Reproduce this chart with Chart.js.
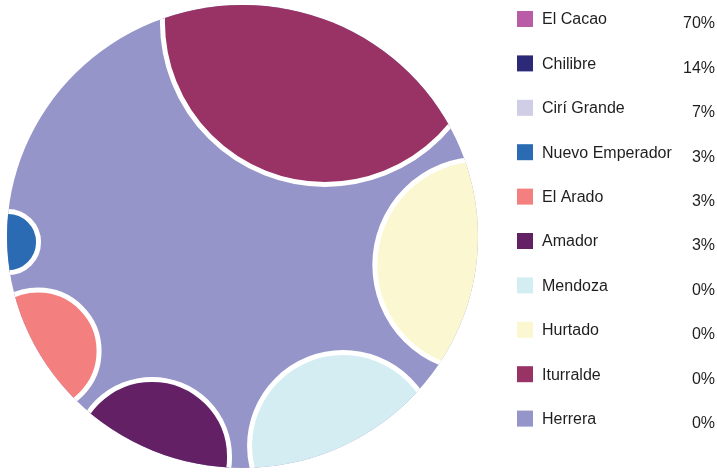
<!DOCTYPE html>
<html lang="es">
<head>
    <meta charset="utf-8">
    <title>Corregimientos</title>
    <script src="https://cdn.jsdelivr.net/npm/chart.js"></script>
    <style>
        html, body { margin: 0; padding: 0; background: #fff; }
        #wrap { width: 717px; height: 474px; position: relative; }
    </style>
</head>
<body>
    <div id="wrap">
        <canvas id="bubbleChart"></canvas>
    </div>

    <script>
        // legend entries
        var categories = [
            'El Cacao', 'Chilibre', 'Cirí Grande', 'Nuevo Emperador', 'El Arado',
            'Amador', 'Mendoza', 'Hurtado', 'Iturralde', 'Herrera'
        ];
        var percents = ['70%', '14%', '7%', '3%', '3%', '3%', '0%', '0%', '0%', '0%'];
        var colors = [
            '#b95ba6', '#2c2a78', '#d0cde6', '#2a6bb3', '#f47f7f',
            '#632064', '#d4edf3', '#fbf8d1', '#993265', '#9595c9'
        ];

        // bubble positions and sizes (x-axis units), null = not visible
        var bubbleX    = [null, null, null, -99.6, -86.8, -38.4, 42.7, 101.2, 35.0, 0];
        var bubbleY    = [null, null, null, -2.4, -49.5, -95.2, -90.5, -12.3, 92.7, 0];
        var bubbleSize = [null, null, null, 13.0, 25.9, 32.9, 39.7, 45.0, 69.0, 106];

        // outer circle radius in axis units
        var outerRadius = 100;

        // draw Herrera first so it sits underneath
        var order = [9, 8, 7, 6, 5, 4, 3, 2, 1, 0];
        var points = [], pointColors = [], pointSizes = [];
        order.forEach(function (i) {
            if (bubbleX[i] === null) return;
            points.push({ x: bubbleX[i], y: bubbleY[i] });
            pointColors.push(colors[i]);
            pointSizes.push(bubbleSize[i]);
        });

        // bubble radius in pixels, taken from the x scale
        function sizeToRadius(c) {
            var xs = c.chart.scales.x;
            var s = pointSizes[c.dataIndex] || 0;
            var px = Math.abs(xs.getPixelForValue(s) - xs.getPixelForValue(0));
            return isFinite(px) ? px : 0;
        }

        // radius gets cached at parse time (before layout), drop it so the
        // scriptable radius is used once the scales have their size
        var radiusFromScale = {
            id: 'radiusFromScale',
            beforeDatasetsUpdate: function (chart) {
                var meta = chart.getDatasetMeta(0);
                (meta._parsed || []).forEach(function (p) { p._custom = undefined; });
            }
        };

        var circleClip = {
            id: 'circleClip',
            beforeDatasetsDraw: function (chart) {
                var ctx = chart.ctx;
                var xs = chart.scales.x, ys = chart.scales.y;
                var cx = xs.getPixelForValue(0), cy = ys.getPixelForValue(0);
                var rx = Math.abs(xs.getPixelForValue(outerRadius) - cx);
                var ry = Math.abs(ys.getPixelForValue(outerRadius) - cy);
                ctx.save();
                ctx.beginPath();
                ctx.ellipse(cx, cy, rx, ry, 0, 0, Math.PI * 2);
                ctx.clip();
            },
            afterDatasetsDraw: function (chart) {
                chart.ctx.restore();
            }
        };

        var sideLegend = {
            id: 'sideLegend',
            afterDraw: function (chart) {
                var ctx = chart.ctx;
                ctx.save();
                ctx.font = '16px "Liberation Sans", Arial, sans-serif';
                ctx.textBaseline = 'middle';
                for (var i = 0; i < categories.length; i++) {
                    var top = 11 + i * 44.4;
                    ctx.fillStyle = colors[i];
                    ctx.fillRect(517, top, 16, 16);
                    ctx.fillStyle = '#1e1e1e';
                    ctx.textAlign = 'left';
                    ctx.fillText(categories[i], 542, top + 9);
                    ctx.textAlign = 'right';
                    ctx.fillText(percents[i], 715, top + 13);
                }
                ctx.restore();
            }
        };

        var ctx1 = document.getElementById('bubbleChart').getContext('2d');
        var bubbleChart = new Chart(ctx1, {
            type: 'bubble',
            data: {
                datasets: [{
                    data: points,
                    backgroundColor: pointColors,
                    borderColor: '#ffffff',
                    borderWidth: 5,
                    hoverBorderWidth: 5,
                    radius: sizeToRadius,
                    clip: false
                }]
            },
            options: {
                responsive: true,
                maintainAspectRatio: false,
                animation: false,
                events: [],
                layout: {
                    padding: { left: 7, right: 239, top: 5, bottom: 6 }
                },
                plugins: {
                    legend: { display: false },
                    title: { display: false },
                    tooltip: { enabled: false }
                },
                scales: {
                    x: { type: 'linear', min: -100, max: 100, display: false },
                    y: { type: 'linear', min: -100, max: 100, display: false }
                }
            },
            plugins: [radiusFromScale, circleClip, sideLegend]
        });
    </script>
</body>
</html>
